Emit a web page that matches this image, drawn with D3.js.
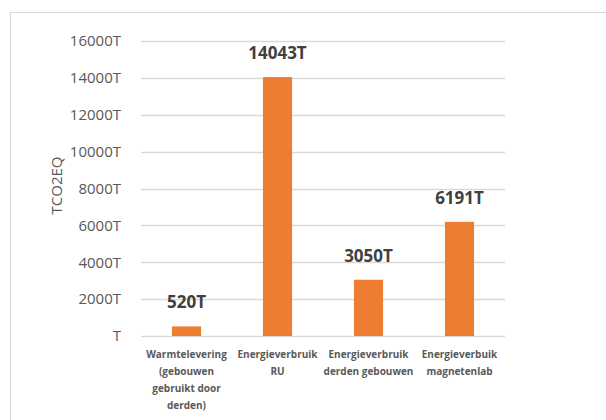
<!DOCTYPE html>
<html>
<head>
<meta charset="utf-8">
<script src="https://cdn.jsdelivr.net/npm/d3@7"></script>
<style>
  body { margin: 0; background: #fff; }
  svg { display: block; font-family: "Open Sans", "Liberation Sans", sans-serif; }
</style>
</head>
<body>
<div id="chart"></div>
<script>
var categories = [
    ["Warmtelevering", "(gebouwen", "gebruikt door", "derden)"],
    ["Energieverbruik", "RU"],
    ["Energieverbruik", "derden gebouwen"],
    ["Energieverbuik", "magnetenlab"]
];
var values = [520, 14043, 3050, 6191];
var yTicks = [0, 2000, 4000, 6000, 8000, 10000, 12000, 14000, 16000];
var yTitle = "TCO2EQ";

var W = 606, H = 420;
var margin = { top: 41, right: 101, bottom: 84, left: 141 },
    width = W - margin.left - margin.right,
    height = H - margin.top - margin.bottom;

var svg = d3.select("#chart")
    .append("svg")
    .attr("width", W)
    .attr("height", H);

// outer frame
svg.append("rect")
    .attr("x", 10.5)
    .attr("y", 12.5)
    .attr("width", W)
    .attr("height", H)
    .attr("fill", "none")
    .attr("stroke", "#d9d9d9");

var plot = svg.append("g")
    .attr("transform", "translate(" + margin.left + "," + margin.top + ")");

var xScale = d3.scaleBand()
    .domain(d3.range(values.length))
    .range([0, width])
    .paddingInner(0.68)
    .paddingOuter(0.34);

var yScale = d3.scaleLinear()
    .domain([0, 16000])
    .range([height, 0]);

// gridlines
plot.selectAll("line.grid")
    .data(yTicks)
    .enter()
    .append("line")
    .attr("class", "grid")
    .attr("x1", 0)
    .attr("x2", width)
    .attr("y1", function(d) { return Math.round(yScale(d)) + 0.5; })
    .attr("y2", function(d) { return Math.round(yScale(d)) + 0.5; })
    .attr("stroke", "#d9d9d9")
    .attr("stroke-width", 1.3);

// y tick labels
plot.selectAll("text.ytick")
    .data(yTicks)
    .enter()
    .append("text")
    .attr("class", "ytick")
    .attr("x", -20)
    .attr("y", function(d) { return yScale(d); })
    .attr("dy", "0.35em")
    .attr("text-anchor", "end")
    .attr("fill", "#595959")
    .style("font-size", "15px")
    .text(function(d) { return (d === 0 ? "" : d) + "T"; });

// bars
plot.selectAll("rect.bar")
    .data(values)
    .enter()
    .append("rect")
    .attr("class", "bar")
    .attr("x", function(d, i) { return xScale(i); })
    .attr("width", xScale.bandwidth())
    .attr("y", function(d) { return yScale(d); })
    .attr("height", function(d) { return height - yScale(d); })
    .attr("fill", "#ed7d31");

// value labels
plot.selectAll("text.value")
    .data(values)
    .enter()
    .append("text")
    .attr("class", "value")
    .attr("x", function(d, i) { return xScale(i) + xScale.bandwidth() / 2; })
    .attr("y", function(d) { return yScale(d) - 18; })
    .attr("text-anchor", "middle")
    .attr("fill", "#404040")
    .style("font-size", "17px")
    .style("font-weight", "bold")
    .text(function(d) { return d + "T"; });

// category labels
var xLabels = plot.selectAll("text.cat")
    .data(categories)
    .enter()
    .append("text")
    .attr("class", "cat")
    .attr("x", function(d, i) { return xScale(i) + xScale.bandwidth() / 2; })
    .attr("y", height + 22)
    .attr("text-anchor", "middle")
    .attr("fill", "#595959")
    .style("font-size", "10px")
    .style("font-weight", "bold");

xLabels.selectAll("tspan")
    .data(function(d) { return d; })
    .enter()
    .append("tspan")
    .attr("x", function() { return d3.select(this.parentNode).attr("x"); })
    .attr("dy", function(d, i) { return i === 0 ? 0 : 17; })
    .text(function(d) { return d; });

// y axis title
svg.append("text")
    .attr("transform", "translate(62," + (margin.top + height / 2 - 3) + ") rotate(-90)")
    .attr("text-anchor", "middle")
    .attr("fill", "#595959")
    .style("font-size", "15px")
    .text(yTitle);
</script>
</body>
</html>
